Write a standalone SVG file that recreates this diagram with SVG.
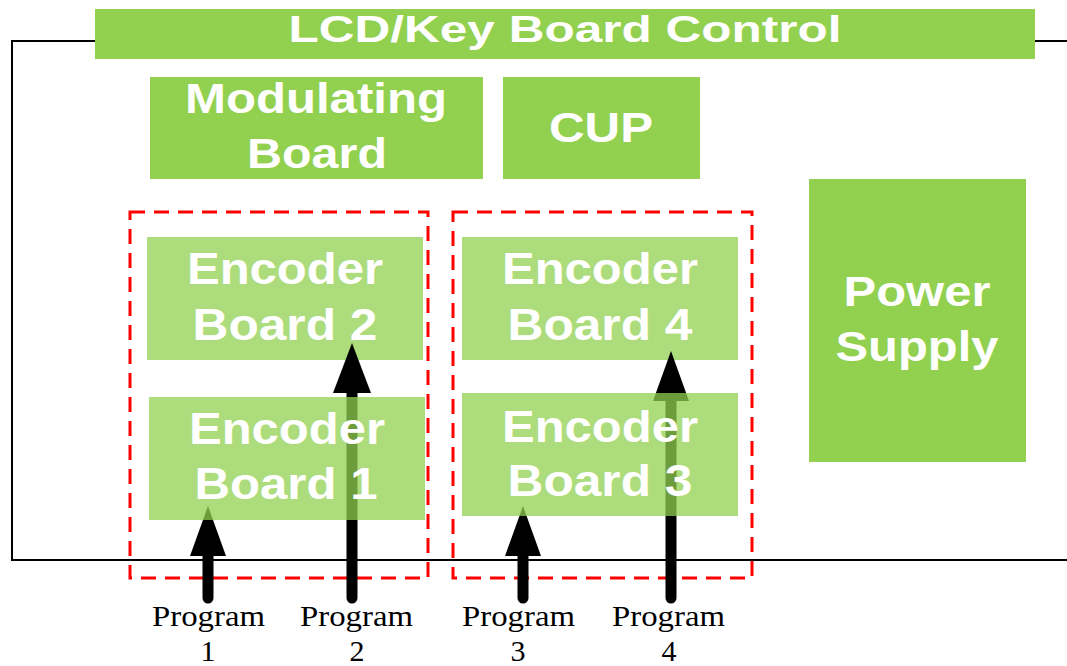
<svg xmlns="http://www.w3.org/2000/svg" width="1067" height="666" viewBox="0 0 1067 666">
  <style>
    .box { fill: #92D050; }
    .enc { fill: #92D050; fill-opacity: 0.75; }
    .t { font-family: "Liberation Sans", Arial, sans-serif; font-weight: bold; fill: #FFFFFF; text-anchor: middle; }
    .lbl { font-family: "Liberation Serif", "Times New Roman", serif; font-size: 30px; fill: #000000; text-anchor: middle; }
    .frame { fill: none; stroke: #000000; stroke-width: 2; }
    .dash { fill: none; stroke: #FF0000; stroke-width: 3; stroke-dasharray: 15 9; }
    .shaft { stroke: #000000; stroke-width: 11; stroke-linecap: round; fill: none; }
    .head { fill: #000000; }
  </style>

  <g id="frame">
    <polyline class="frame" points="95,41 12,41 12,560 1067,560"/>
    <line class="frame" x1="1035" y1="41" x2="1067" y2="41"/>
  </g>

  <g id="lcd">
    <rect class="box" x="95" y="9" width="940" height="50"/>
    <text class="t" x="565" y="42" font-size="37" textLength="553" lengthAdjust="spacingAndGlyphs">LCD/Key Board Control</text>
  </g>

  <g id="modulating">
    <rect class="box" x="150" y="77" width="333" height="102"/>
    <text class="t" x="316" y="113" font-size="42" textLength="262" lengthAdjust="spacingAndGlyphs">Modulating</text>
    <text class="t" x="317" y="168" font-size="42" textLength="140" lengthAdjust="spacingAndGlyphs">Board</text>
  </g>

  <g id="cup">
    <rect class="box" x="503" y="77" width="197" height="102"/>
    <text class="t" x="601" y="142" font-size="42" textLength="104" lengthAdjust="spacingAndGlyphs">CUP</text>
  </g>

  <g id="power">
    <rect class="box" x="809" y="179" width="217" height="283"/>
    <text class="t" x="917" y="306" font-size="43" textLength="147" lengthAdjust="spacingAndGlyphs">Power</text>
    <text class="t" x="917" y="361" font-size="43" textLength="163" lengthAdjust="spacingAndGlyphs">Supply</text>
  </g>

  <g id="group1">
    <rect class="dash" x="130" y="212" width="298" height="366"/>
  </g>
  <g id="group2">
    <rect class="dash" x="453" y="212" width="299" height="366"/>
  </g>

  <g id="encoder2">
    <rect class="enc" x="147" y="237" width="276" height="123"/>
    <text class="t" x="285" y="284" font-size="44" textLength="196" lengthAdjust="spacingAndGlyphs">Encoder</text>
    <text class="t" x="285" y="340" font-size="44" textLength="185" lengthAdjust="spacingAndGlyphs">Board 2</text>
  </g>

  <g id="encoder4">
    <rect class="enc" x="462" y="237" width="276" height="123"/>
    <text class="t" x="600" y="284" font-size="44" textLength="196" lengthAdjust="spacingAndGlyphs">Encoder</text>
    <text class="t" x="600" y="340" font-size="44" textLength="185" lengthAdjust="spacingAndGlyphs">Board 4</text>
  </g>

  <g id="connectors">
    <line class="shaft" x1="208" y1="598" x2="208" y2="550"/>
    <polygon class="head" points="208,506 226,556 190,556"/>
    <line class="shaft" x1="352" y1="598" x2="352" y2="388"/>
    <polygon class="head" points="352,343 371,393 333,393"/>
    <line class="shaft" x1="523" y1="598" x2="523" y2="550"/>
    <polygon class="head" points="523,506 541,556 505,556"/>
    <line class="shaft" x1="671" y1="598" x2="671" y2="395"/>
    <polygon class="head" points="671,351 689,401 653,401"/>
  </g>

  <g id="encoder1">
    <rect class="enc" x="149" y="397" width="276" height="123"/>
    <text class="t" x="287" y="444" font-size="44" textLength="196" lengthAdjust="spacingAndGlyphs">Encoder</text>
    <text class="t" x="286" y="499" font-size="44" textLength="183" lengthAdjust="spacingAndGlyphs">Board 1</text>
  </g>

  <g id="encoder3">
    <rect class="enc" x="462" y="393" width="276" height="123"/>
    <text class="t" x="600" y="442" font-size="44" textLength="196" lengthAdjust="spacingAndGlyphs">Encoder</text>
    <text class="t" x="600" y="496" font-size="44" textLength="185" lengthAdjust="spacingAndGlyphs">Board 3</text>
  </g>

  <g id="labels">
    <text class="lbl" x="208.5" y="626" textLength="113" lengthAdjust="spacingAndGlyphs">Program</text>
    <text class="lbl" x="208" y="661">1</text>
    <text class="lbl" x="356.5" y="626" textLength="113" lengthAdjust="spacingAndGlyphs">Program</text>
    <text class="lbl" x="357" y="661">2</text>
    <text class="lbl" x="518.5" y="626" textLength="113" lengthAdjust="spacingAndGlyphs">Program</text>
    <text class="lbl" x="518" y="661">3</text>
    <text class="lbl" x="668.5" y="626" textLength="113" lengthAdjust="spacingAndGlyphs">Program</text>
    <text class="lbl" x="669" y="661">4</text>
  </g>
</svg>
